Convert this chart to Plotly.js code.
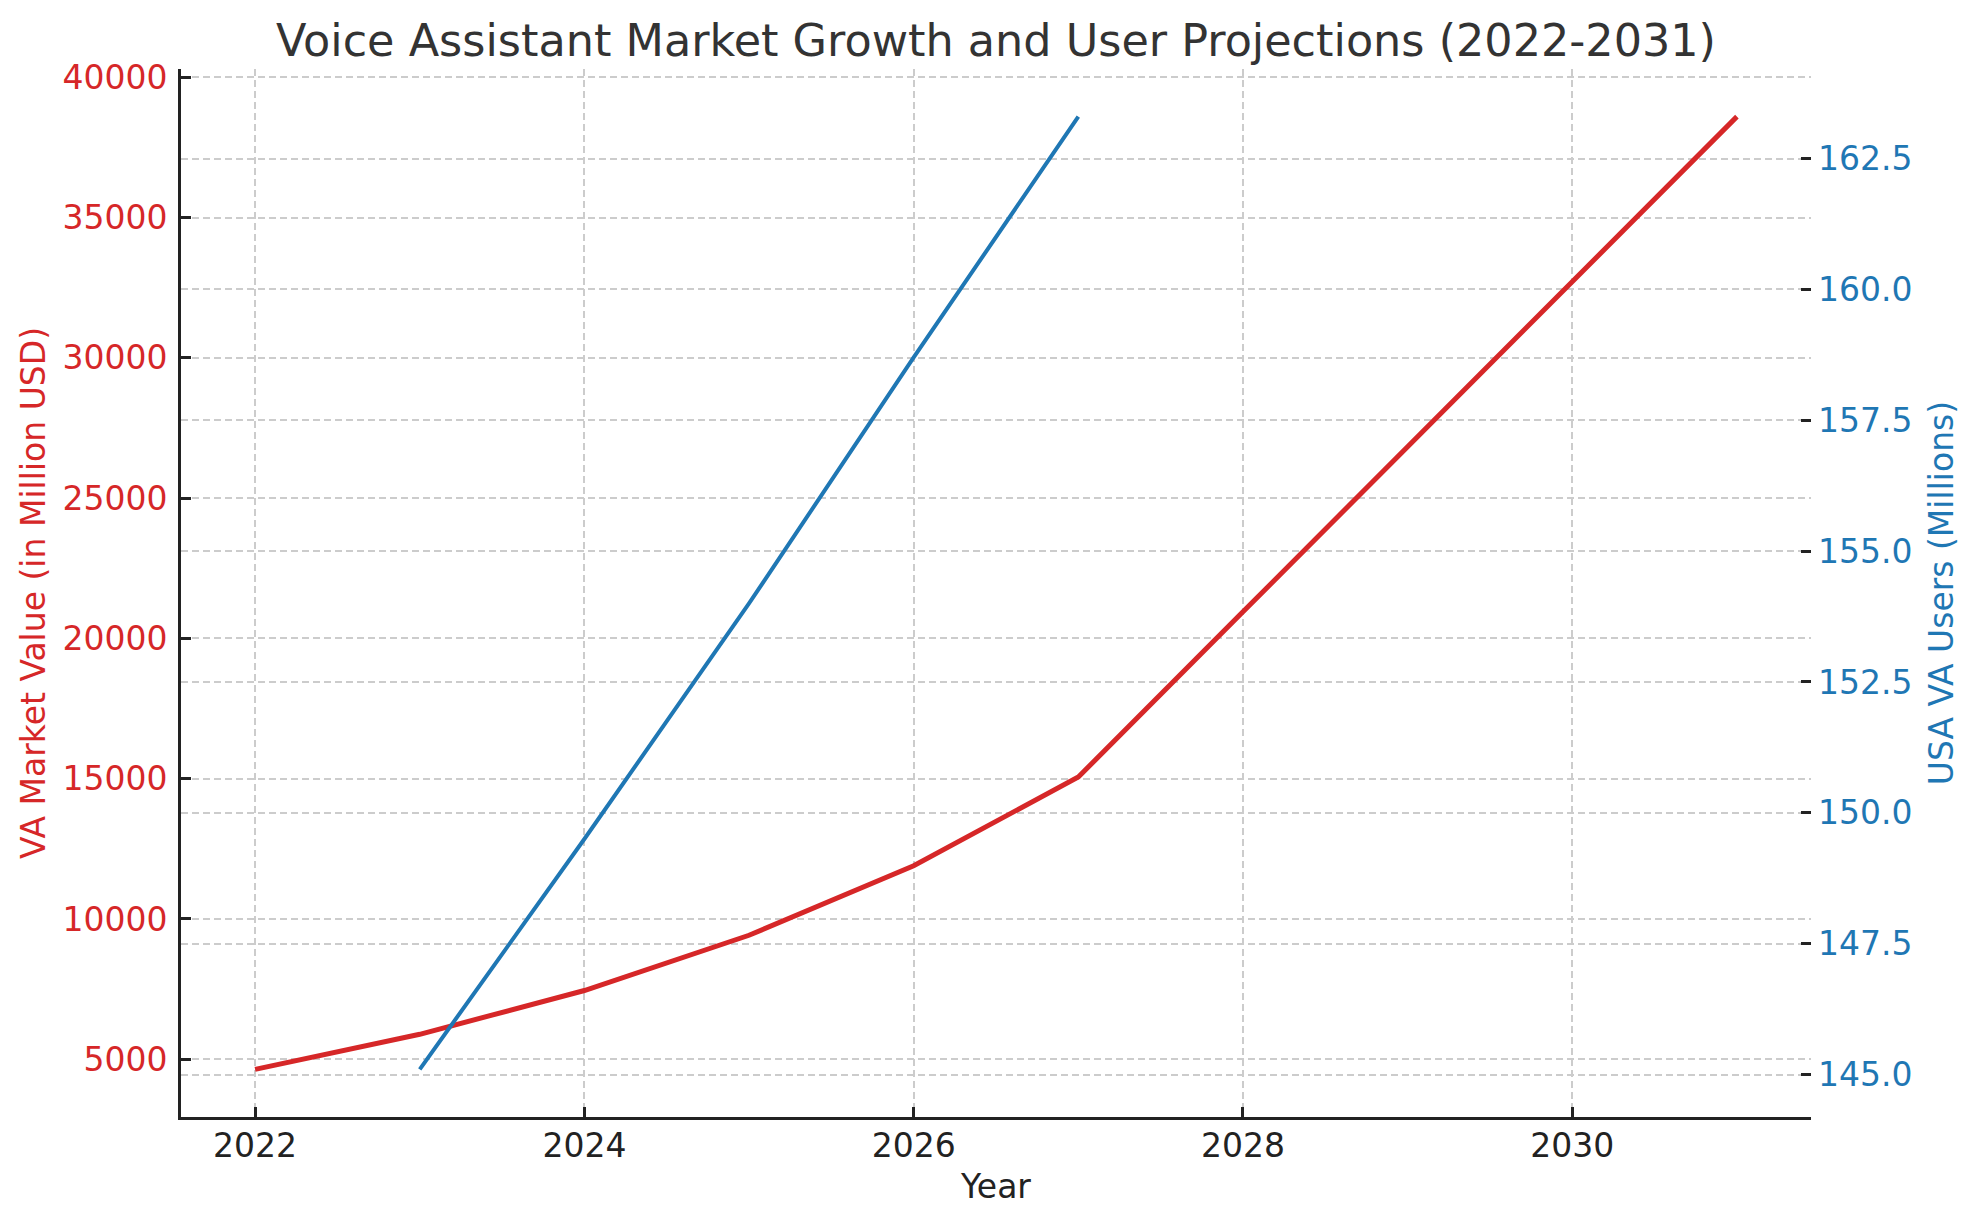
<!DOCTYPE html>
<html>
<head>
<meta charset="utf-8">
<script src="https://cdn.plot.ly/plotly-3.0.1.min.js"></script>
<style>
  html, body { margin: 0; padding: 0; background: #fff; }
  #plot { width: 1980px; height: 1223px; }
</style>
</head>
<body>
<div id="plot"></div>
<script>
// ======================= DATA =======================
const years = [2022, 2023, 2024, 2025, 2026, 2027, 2028, 2029, 2030, 2031];
const marketValue = [4640, 5890, 7450, 9420, 11900, 15060, 20950, 26850, 32700, 38600];

const userYears = [2023, 2024, 2025, 2026, 2027];
const usaUsers = [145.1, 149.5, 154.0, 158.7, 163.3];

const titleText = 'Voice Assistant Market Growth and User Projections (2022-2031)';
const xTitle = 'Year';
const y1Title = 'VA Market Value (in Million USD)';
const y2Title = 'USA VA Users (Millions)';

// ======================= STYLE =======================
const RED = '#d62728';
const BLUE = '#1f77b4';
const FONT = 'DejaVu Sans, sans-serif';
const GRID = '#cccccc';

// matplotlib style 5% padding around data
function padRange(vals, frac) {
  const lo = Math.min(...vals), hi = Math.max(...vals);
  const p = (hi - lo) * frac;
  return [lo - p, hi + p];
}

const traces = [
  { x: years, y: marketValue, mode: 'lines', name: y1Title,
    line: { color: RED, width: 5 }, yaxis: 'y' },
  { x: userYears, y: usaUsers, mode: 'lines', name: y2Title,
    line: { color: BLUE, width: 4 }, yaxis: 'y2' }
];

const axisCommon = {
  ticks: 'inside', ticklen: 10, tickwidth: 3, tickcolor: '#222',
  showgrid: true, gridcolor: GRID, gridwidth: 2, griddash: '7px,4px',
  zeroline: false
};

const layout = {
  width: 1980, height: 1223,
  margin: { l: 181, r: 169, t: 69, b: 106 },
  paper_bgcolor: '#fff', plot_bgcolor: '#fff',
  showlegend: false,
  font: { family: FONT, size: 33, color: '#222' },
  title: { text: titleText, font: { family: FONT, size: 44.5, color: '#333' },
           xref: 'paper', x: 0.5, xanchor: 'center',
           yref: 'container', y: 0.967, yanchor: 'middle' },
  xaxis: Object.assign({}, axisCommon, {
    range: padRange(years, 0.05), dtick: 2, tick0: 2022,
    showline: true, linecolor: '#222', linewidth: 3,
    tickfont: { size: 33, color: '#222' },
    ticklabelstandoff: -3,
    title: { text: xTitle, font: { size: 33, color: '#222' }, standoff: 12 }
  }),
  yaxis: Object.assign({}, axisCommon, {
    range: padRange(marketValue, 0.05), dtick: 5000, tick0: 0, tickformat: 'd',
    showline: true, linecolor: '#222', linewidth: 3,
    tickfont: { size: 33, color: RED },
    ticklabelstandoff: 4,
    title: { text: y1Title, font: { size: 33, color: RED }, standoff: 7 }
  }),
  yaxis2: Object.assign({}, axisCommon, {
    overlaying: 'y', side: 'right',
    range: padRange(usaUsers, 0.05), dtick: 2.5, tick0: 0, tickformat: '.1f',
    showline: false,
    tickfont: { size: 33, color: BLUE },
    ticklabelstandoff: 6,
    title: { text: y2Title, font: { size: 33, color: BLUE }, standoff: 18 }
  })
};

Plotly.newPlot('plot', traces, layout, { staticPlot: true });
</script>
</body>
</html>
